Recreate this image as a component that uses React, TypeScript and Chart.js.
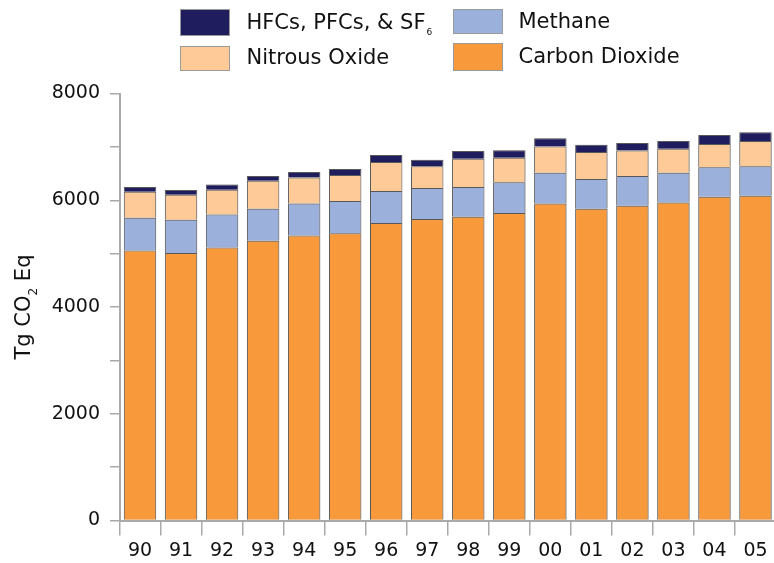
import React, { useEffect, useRef } from 'react';
import { Chart, registerables } from 'chart.js';

Chart.register(...registerables);

// ---- Data (Tg CO2 Eq) ----
const YEARS = ['90', '91', '92', '93', '94', '95', '96', '97', '98', '99', '00', '01', '02', '03', '04', '05'];
const CARBON_DIOXIDE = [5057, 5014, 5114, 5240, 5339, 5384, 5572, 5647, 5690, 5760, 5940, 5840, 5897, 5959, 6066, 6084];
const METHANE = [614, 620, 619, 600, 601, 601, 601, 582, 558, 575, 576, 558, 557, 557, 550, 551];
const NITROUS_OXIDE = [489, 469, 464, 526, 488, 488, 544, 406, 531, 463, 489, 507, 476, 451, 439, 476];
const HFCS_PFCS_SF6 = [88, 88, 100, 88, 101, 113, 132, 126, 145, 138, 156, 137, 144, 144, 169, 162];
const Y_TICK_LABELS = [0, 2000, 4000, 6000, 8000];

const FONT = '"DejaVu Sans", sans-serif';
const TEXT_COLOR = '#111111';
const AXIS_COLOR = '#a9a9a9';
const COLORS = {
  co2: '#f89a3b',
  ch4: '#9cb0dc',
  n2o: '#fecb98',
  hfc: '#201d5e',
};

type LegendItem = { main: string; sub: string; color: string; bx: number; by: number; bh: number; tx: number; ty: number };

const LEGEND_ITEMS: LegendItem[] = [
  { main: 'HFCs, PFCs, & SF', sub: '6', color: COLORS.hfc, bx: 180, by: 9, bh: 27, tx: 246.5, ty: 28.5 },
  { main: 'Methane', sub: '', color: COLORS.ch4, bx: 453, by: 9, bh: 25, tx: 518.5, ty: 28 },
  { main: 'Nitrous Oxide', sub: '', color: COLORS.n2o, bx: 180, by: 46, bh: 25, tx: 246.5, ty: 64 },
  { main: 'Carbon Dioxide', sub: '', color: COLORS.co2, bx: 453, by: 43, bh: 28, tx: 518.5, ty: 63 },
];

const legendPlugin = {
  id: 'customLegend',
  afterDraw(chart: any) {
    const ctx: CanvasRenderingContext2D = chart.ctx;
    ctx.save();
    for (const it of LEGEND_ITEMS) {
      ctx.fillStyle = it.color;
      ctx.fillRect(it.bx, it.by, 50, it.bh);
      ctx.strokeStyle = '#9a9a9a';
      ctx.lineWidth = 1;
      ctx.strokeRect(it.bx + 0.5, it.by + 0.5, 49, it.bh - 1);
      ctx.fillStyle = TEXT_COLOR;
      ctx.textAlign = 'left';
      ctx.textBaseline = 'alphabetic';
      ctx.font = `21px ${FONT}`;
      ctx.fillText(it.main, it.tx, it.ty);
      if (it.sub) {
        const w = ctx.measureText(it.main).width;
        ctx.font = `9px ${FONT}`;
        ctx.fillText(it.sub, it.tx + w + 1, it.ty + 6);
      }
    }
    // Y axis title with subscript
    ctx.translate(25, 307);
    ctx.rotate(-Math.PI / 2);
    ctx.textBaseline = 'middle';
    const parts: [string, boolean][] = [['Tg CO', false], ['2', true], [' Eq', false]];
    let total = 0;
    const widths: number[] = [];
    for (const [t, s] of parts) {
      ctx.font = s ? `12px ${FONT}` : `21px ${FONT}`;
      const w = ctx.measureText(t).width;
      widths.push(w);
      total += w;
    }
    let x = -total / 2;
    parts.forEach(([t, s], i) => {
      ctx.font = s ? `12px ${FONT}` : `21px ${FONT}`;
      ctx.fillText(t, x, s ? 9 : 0);
      x += widths[i];
    });
    ctx.restore();
  },
};

const shadowPlugin = {
  id: 'barShadow',
  beforeDatasetsDraw(chart: any) {
    const ctx = chart.ctx;
    ctx.save();
    ctx.shadowColor = 'rgba(0,0,0,0.25)';
    ctx.shadowBlur = 2;
  },
  afterDatasetsDraw(chart: any) {
    chart.ctx.restore();
  },
};

export default function App() {
  const canvasRef = useRef<HTMLCanvasElement | null>(null);

  useEffect(() => {
    if (!canvasRef.current) return;
    const ds = (label: string, data: number[], color: string) => ({
      label,
      data,
      backgroundColor: color,
      borderColor: 'rgba(70,70,70,0.85)',
      borderWidth: 1,
      categoryPercentage: 1,
      barPercentage: 0.79,
    });
    const chart = new Chart(canvasRef.current, {
      type: 'bar',
      data: {
        labels: YEARS,
        datasets: [
          ds('Carbon Dioxide', CARBON_DIOXIDE, COLORS.co2),
          ds('Methane', METHANE, COLORS.ch4),
          ds('Nitrous Oxide', NITROUS_OXIDE, COLORS.n2o),
          ds('HFCs, PFCs, & SF6', HFCS_PFCS_SF6, COLORS.hfc),
        ],
      },
      options: {
        animation: false,
        responsive: false,
        devicePixelRatio: 1,
        layout: { padding: { top: 93.5, left: 0, right: 0, bottom: 0 } },
        plugins: {
          legend: { display: false },
          tooltip: { enabled: false },
          title: { display: false },
        },
        scales: {
          x: {
            stacked: true,
            offset: true,
            grid: {
              offset: true,
              drawOnChartArea: false,
              drawTicks: true,
              tickLength: 15,
              color: AXIS_COLOR,
              lineWidth: 1.5,
            },
            border: { color: AXIS_COLOR, width: 2 },
            ticks: {
              font: { family: FONT, size: 19 },
              color: TEXT_COLOR,
              padding: 4,
              maxRotation: 0,
              autoSkip: false,
            },
            afterFit: (s: any) => {
              s.height = 42.5;
            },
          },
          y: {
            stacked: true,
            min: 0,
            max: 8000,
            ticks: {
              stepSize: 1000,
              callback: (v: any) => (Y_TICK_LABELS.includes(Number(v)) ? String(v) : ''),
              font: { family: FONT, size: 19 },
              color: TEXT_COLOR,
              padding: 10,
            },
            grid: {
              drawOnChartArea: false,
              drawTicks: true,
              tickLength: 9.5,
              color: AXIS_COLOR,
              lineWidth: 1.5,
            },
            border: { color: AXIS_COLOR, width: 2 },
            afterFit: (s: any) => {
              s.width = 119.5;
            },
          },
        },
      },
      plugins: [shadowPlugin, legendPlugin],
    } as any);
    return () => chart.destroy();
  }, []);

  return (
    <div
      style={{
        position: 'absolute',
        left: 0,
        top: 0,
        width: 774,
        height: 563,
        overflow: 'hidden',
        background: '#ffffff',
      }}
    >
      <canvas ref={canvasRef} width={776} height={563} style={{ display: 'block' }} />
    </div>
  );
}
